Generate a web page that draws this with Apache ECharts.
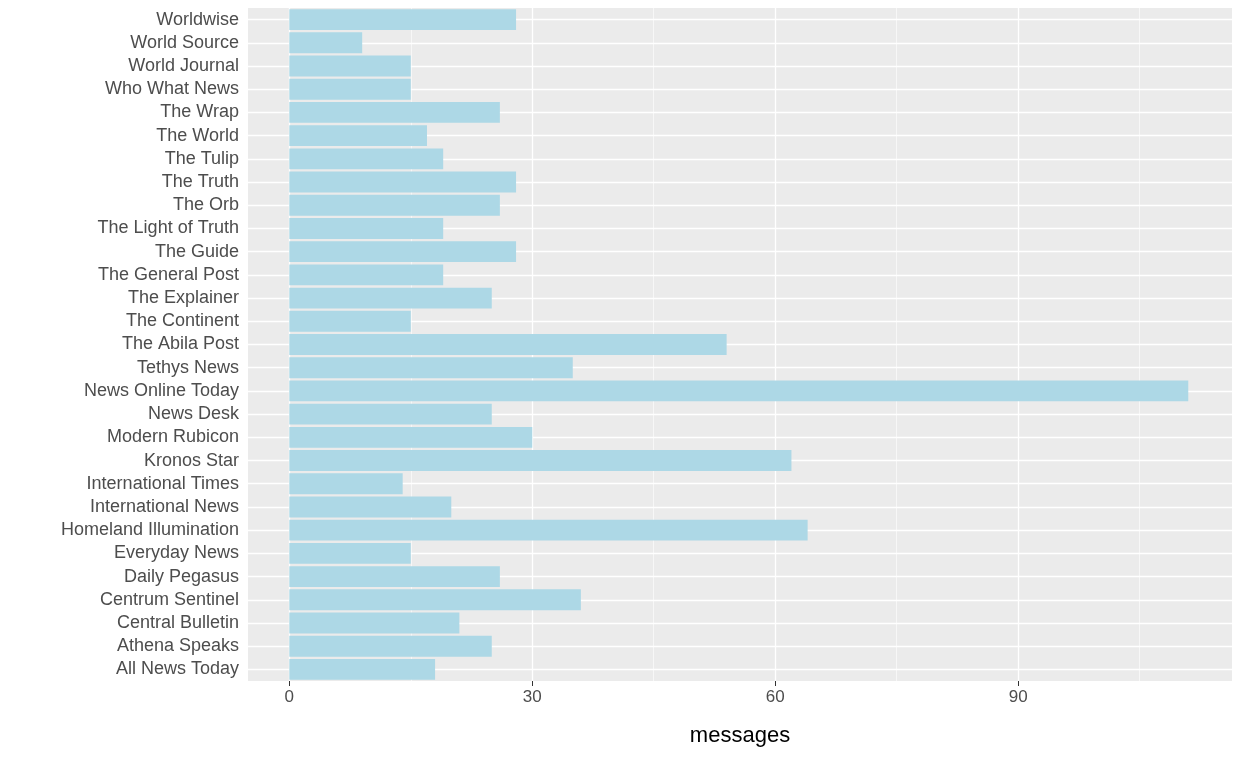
<!DOCTYPE html>
<html><head><meta charset="utf-8">
<script src="https://cdn.jsdelivr.net/npm/echarts@6/dist/echarts.min.js"></script>
<style>html,body{margin:0;padding:0;background:#fff}#c{width:1248px;height:768px}</style>
</head><body><div id="c"></div>
<script>
const categories = ["All News Today","Athena Speaks","Central Bulletin","Centrum Sentinel","Daily Pegasus","Everyday News","Homeland Illumination","International News","International Times","Kronos Star","Modern Rubicon","News Desk","News Online Today","Tethys News","The Abila Post","The Continent","The Explainer","The General Post","The Guide","The Light of Truth","The Orb","The Truth","The Tulip","The World","The Wrap","Who What News","World Journal","World Source","Worldwise"];
const messages = [18,25,21,36,26,15,64,20,14,62,30,25,111,35,54,15,25,19,28,19,26,28,19,17,26,15,15,9,28];
const majorTicks = [0,30,60,90];
const minorTicks = [15,45,75,105];
const font = '"Liberation Sans", Arial, sans-serif';
const chart = echarts.init(document.getElementById('c'));
const gridLines = [];
minorTicks.forEach(v=>gridLines.push({xAxis:v,lineStyle:{color:'#fff',width:0.6,type:'solid'}}));
majorTicks.forEach(v=>gridLines.push({xAxis:v,lineStyle:{color:'#fff',width:1.3,type:'solid'}}));
categories.forEach(c=>gridLines.push({yAxis:c,lineStyle:{color:'#fff',width:1.3,type:'solid'}}));
chart.setOption({
  animation:false,
  grid:{left:248,right:16,top:8,bottom:87,show:true,backgroundColor:'#EBEBEB',borderWidth:0},
  xAxis:{type:'value',min:-5.1,max:116.4,name:'messages',nameLocation:'middle',nameGap:44,
    nameTextStyle:{fontFamily:font,fontSize:22,color:'#000'},
    axisLine:{show:false},splitLine:{show:false},
    axisTick:{show:true,length:5,lineStyle:{color:'#333'},customValues:majorTicks},
    axisLabel:{fontFamily:font,fontSize:17,color:'#4D4D4D',margin:8,customValues:majorTicks}},
  yAxis:{type:'category',data:categories,axisLine:{show:false},splitLine:{show:false},
    axisTick:{show:true,length:5,alignWithLabel:true,interval:0,lineStyle:{color:'#333'}},
    axisLabel:{fontFamily:font,fontSize:18,color:'#4D4D4D',margin:9,interval:0}},
  series:[
    {type:'line',data:[],z:1,markLine:{z:1,silent:true,symbol:'none',label:{show:false},animation:false,data:gridLines}},
    {type:'bar',data:messages,z:10,barCategoryGap:'10%',itemStyle:{color:'#ADD8E6'}}
  ]
});
</script></body></html>
